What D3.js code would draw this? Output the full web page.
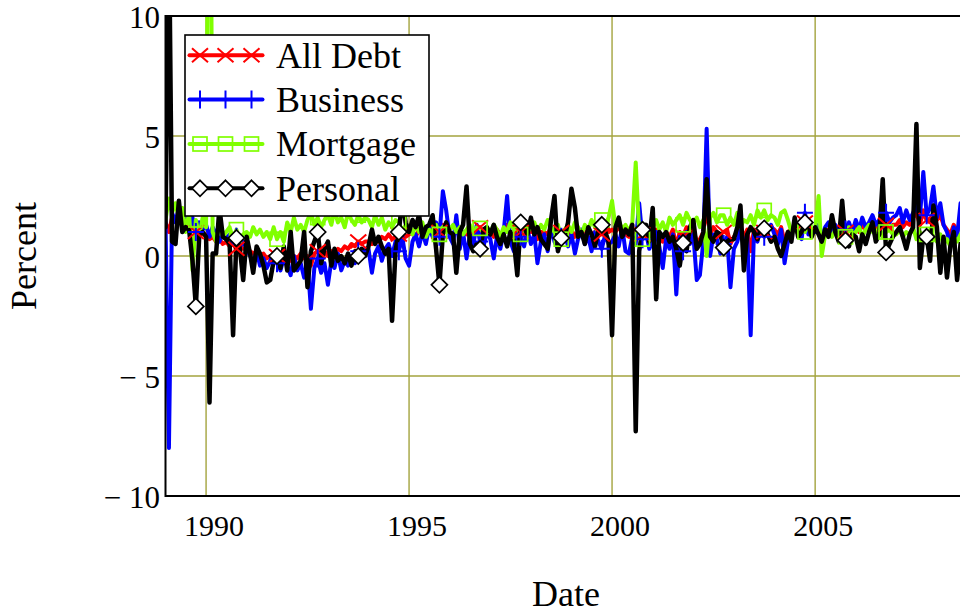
<!DOCTYPE html>
<html>
<head>
<meta charset="utf-8">
<script src="https://cdn.jsdelivr.net/npm/d3@7"></script>
<style>
  html, body { margin: 0; padding: 0; background: #fff; }
  svg { display: block; }
  text { font-family: "Liberation Serif", "Times New Roman", "DejaVu Serif", serif; fill: #000; }
</style>
</head>
<body>
<svg id="chart" width="960" height="613"></svg>
<script>
// Monthly percent change by debt type, Jan 1989 onward
const startYear = 1989;

const allDebt = [
  1.4, 1.0, 1.6, 1.5, 1.7, 1.4, 1.5, 1.2, 1.3, 1.0, 1.1, 0.9,
  0.9, 0.7, 0.8, 0.6, 0.7, 0.5, 0.6, 0.4, 0.5, 0.3, 0.4, 0.3,
  0.3, 0.2, 0.1, 0.2, 0.0, 0.1, -0.1, 0.0, -0.2, 0.0, -0.1, 0.0,
  -0.1, -0.2, 0.0, -0.1, 0.1, -0.1, 0.0, -0.4, 0.1, 0.2, 0.0, 0.2,
  0.0, 0.2, 0.1, 0.3, 0.2, 0.4, 0.3, 0.5, 0.4, 0.6, 0.5, 0.6,
  0.6, 0.5, 0.7, 0.6, 0.8, 0.7, 0.9, 0.7, 0.8, 0.9, 1.0, 0.8,
  0.9, 1.0, 0.8, 1.1, 0.9, 1.0, 1.2, 0.9, 1.0, 1.0, 1.3, 1.1,
  1.0, 0.9, 1.1, 0.8, 1.0, 0.9, 1.1, 0.8, 1.0, 1.2, 0.9, 1.0,
  1.0, 0.8, 1.1, 0.9, 1.0, 1.3, 0.9, 0.8, 1.1, 1.0, 0.9, 1.1,
  1.0, 1.1, 0.7, 1.0, 1.0, 0.9, 1.2, 0.9, 0.8, 1.0, 1.1, 0.9,
  1.1, 0.8, 1.0, 1.0, 0.9, 1.1, 0.9, 1.0, 1.0, 0.9, 1.1, 1.0,
  1.1, 1.0, 1.2, 1.0, 0.9, 0.8, 1.1, 1.0, 1.4, 0.9, 1.0, 0.8,
  1.0, 1.1, 0.9, 0.6, 1.0, 0.8, 1.1, 0.4, 1.0, 0.8, 1.2, 0.9,
  1.1, 0.6, 0.7, 1.0, 2.0, 0.9, 1.2, 1.0, 0.9, 1.0, 1.1, 0.5,
  0.8, 1.0, 1.2, 0.8, 1.1, 0.2, 1.1, 0.9, 1.2, 1.0, 1.1, 1.2,
  1.1, 0.9, 1.2, 0.6, 1.0, 1.1, 1.3, 1.0, 1.0, 1.4, 1.1, 1.0,
  1.1, 1.3, 0.8, 1.0, 1.1, 1.2, 1.1, 1.0, 1.4, 1.0, 1.1, 1.0,
  1.2, 1.0, 1.3, 1.1, 1.2, 1.4, 1.1, 1.2, 1.5, 1.3, 1.1, 1.3,
  1.3, 1.5, 1.2, 1.4, 1.3, 1.6, 1.8, 1.3, 1.9, 1.5, 1.4, 1.8,
  1.5, 1.7, 1.3, 1.1, 0.9, 1.3, 1.0, 1.5, 1.4
];

const business = [
  1.5, -8.0, 1.8, 1.4, 2.0, 1.5, 1.7, 1.2, 1.6, 1.0, 1.4, 1.1,
  1.3, 0.8, 1.2, 0.9, 0.6, 1.0, 0.7, 0.9, 0.5, 0.8, 0.4, 0.6,
  0.3, 0.0, -0.3, 0.2, -0.4, -0.1, -0.5, -0.2, 0.1, -0.3, -0.6, -0.1,
  -0.4, -0.8, 0.0, -0.6, -0.3, -0.9, -0.2, -2.2, -0.5, -0.1, -0.7, -0.3,
  -1.2, -0.2, -0.5, 0.1, -0.6, -0.2, -0.4, 0.0, -0.3, 0.2, -0.1, 0.3,
  0.3, -0.7, 0.1, 0.4, -0.2, 0.3, 0.5, 0.0, 0.6, 0.2, 0.8, -0.1,
  -0.4, 0.6, 0.9, 0.4, 1.0, 0.5, 1.2, 0.8, 1.4, 0.8, 2.7, 1.9,
  0.8, 0.5, 1.7, 0.3, 1.0, -0.1, 0.9, 0.5, 1.3, 0.6, 0.4, 1.0,
  0.7, -0.1, 0.8, 0.3, 1.0, 2.5, 0.6, 0.2, 0.9, 0.8, 0.4, 1.1,
  0.5, 0.9, -0.3, 0.6, 0.9, 0.2, 1.2, 0.6, 0.3, 0.8, 1.0, 0.4,
  0.9, 0.1, 0.7, 1.1, 0.5, 0.8, 0.2, 1.0, 0.6, 0.3, 0.9, 0.5,
  0.6, 0.9, 0.4, 1.2, 0.2, 0.1, 0.8, 0.5, 2.2, 0.7, 1.0, 0.3,
  0.6, 1.0, 0.4, -0.5, 0.7, 0.3, 0.9, -1.6, 0.8, 0.2, 1.0, 0.5,
  0.9, -1.0, -0.8, 0.6, 5.3, 0.0, 0.9, 0.7, 0.1, 0.5, 0.8, -1.3,
  0.3, 0.6, 1.1, 0.4, 0.9, -3.3, 1.0, 0.6, 1.2, 0.8, 1.0, 1.3,
  0.9, 0.5, 1.1, -0.3, 0.6, 1.0, 1.3, 0.9, 0.7, 1.8, 0.9, 1.1,
  1.0, 1.3, 0.8, 1.2, 1.4, 1.0, 1.3, 0.9, 1.5, 1.1, 1.4, 1.0,
  1.5, 1.1, 1.6, 1.2, 1.4, 1.7, 1.3, 1.5, 1.2, 1.8, 1.4, 1.6,
  1.7, 2.0, 1.4, 1.9, 1.5, 1.8, 2.1, 1.6, 3.5, 1.7, 2.0, 2.9,
  1.6, 2.2, 1.3, 1.0, 0.5, 1.2, 0.8, 2.2, 1.5
];

const mortgage = [
  1.5, 2.4, 1.8, 2.2, 1.6, 2.0, 1.0, 1.8, -0.6, 1.5, 0.8, 1.6,
  1.2, 25.0, 1.0, 0.6, 1.4, 0.8, 1.0, 1.2, 0.7, 1.1, 0.6, 0.9,
  1.0, 0.8, 1.2, 0.9, 1.1, 0.8, 1.0, 0.7, 1.2, 0.7, 1.0, 0.6,
  1.4, 1.0, 1.6, 1.1, 1.3, 1.0, 1.5, 1.8, 1.3, 1.6, 1.2, 1.5,
  1.7, 1.3, 1.9, 1.4, 1.6, 1.2, 1.8, 1.5, 1.3, 1.7, 1.4, 1.6,
  1.5, 1.2, 1.7, 1.3, 1.6, 1.1, 1.4, 1.2, 1.5, 1.4, 1.0, 1.3,
  1.2, 0.9, 1.3, 1.0, 1.4, 0.8, 1.1, 1.0, 1.3, 0.9, 1.2, 1.0,
  1.1, 1.3, 1.0, 1.2, 0.9, 1.1, 1.3, 1.0, 1.2, 1.15, 1.0, 1.2,
  1.0, 1.3, 1.1, 0.8, 1.2, 1.0, 1.4, 1.1, 1.2, 0.9, 1.3, 1.0,
  1.2, 1.4, 1.0, 1.3, 1.1, 1.5, 1.2, 1.0, 1.3, 0.7, 1.1, 1.3,
  1.0, 1.4, 1.2, 0.9, 1.3, 1.1, 1.5, 1.2, 1.0, 1.5, 1.3, 1.6,
  2.3, 1.2, 1.5, 1.1, 1.3, 1.0, 1.4, 3.9, 1.0, 0.7, 1.2, 0.9,
  1.2, 1.5, 1.1, 1.4, 1.0, 1.6, 1.3, 1.5, 1.7, 1.3, 1.8, 1.5,
  1.4, 1.6, 1.2, 1.5, 0.0, 1.6, 1.8, 1.4, 1.7, 1.7, 1.3, 1.6,
  1.3, 1.8, 1.2, 1.5, 1.4, 1.7, 1.3, 1.9, 1.6, 1.9, 1.5, 1.7,
  1.6, 1.3, 1.8, 1.9, 1.5, 1.0, 1.2, 0.9, 1.1, 1.0, 1.3, 0.9,
  1.1, 2.5, 0.0, 0.9, 1.0, 0.8, 1.1, 0.9, 1.0, 0.8, 1.2, 0.9,
  1.0, 1.2, 0.8, 1.1, 1.3, 1.0, 0.9, 1.2, 0.8, 1.0, 1.1, 0.9,
  0.9, 1.1, 0.8, 1.0, 0.9, 1.2, 0.7, 1.0, 0.8, 0.9, 1.1, 0.8,
  0.6, 0.9, 0.5, 0.7, 0.4, 0.8, 0.6, 0.9, 0.7
];

const personal = [
  1.2, 14.0, 0.6, 0.5, 2.3, 1.0, 1.2, 1.1, -0.2, -2.1, 0.9, 1.0,
  0.8, -6.1, 0.1, 0.1, 2.0, 0.8, 0.7, 0.5, -3.3, 0.75, 0.3, -1.0,
  0.8, 0.1, -0.7, 0.4, 0.1, -0.4, -1.1, -1.0, -0.2, 0.0, -0.5, 0.4,
  -0.6, 1.0, -0.6, -0.4, -0.2, 1.0, -1.3, 0.2, 0.6, 1.0, -0.3, 0.3,
  0.6, -0.4, 0.3, -0.2, 0.0, -0.3, 0.1, -0.4, 0.2, 0.0, 0.3, 0.0,
  0.4, 1.1, 0.5, 0.8, 0.4, 0.1, 0.3, -2.7, 0.2, 1.0, 2.4, 1.4,
  1.0, 1.5, 1.2, 1.7, 0.8, 1.2, 1.3, 1.7, 0.3, -1.2, 0.9, 1.4,
  1.0, 0.9, -0.7, 1.0, 1.3, 2.9, 0.5, 0.2, 0.5, 0.3, 1.1, 1.2,
  0.9, 1.3, 0.8, 0.5, 0.9, 0.4, 1.0, 0.6, -0.8, 1.4, 1.2, 0.9,
  1.6, 0.9, 1.2, 0.7, 0.5, 0.3, 1.5, 2.5, 0.2, 0.75, 0.8, 1.4,
  2.8, 2.0, 0.8, 1.0, 0.5, 1.2, 0.9, 0.4, 1.1, 1.3, 1.0, 0.6,
  -3.3, 1.2, 1.6, 0.8, 1.1, 0.9, 1.3, -7.3, 0.2, 1.1, 1.3, 0.6,
  2.0, -1.8, 1.0, 0.8, 1.0, 0.6, 0.8, 0.3, -0.4, 0.55, 0.2, 1.2,
  1.5, 0.3, 0.5, 1.0, 3.2, 0.8, 0.6, 1.0, 0.9, 0.35, 0.6, 0.7,
  0.7, 1.2, 2.1, -0.6, 0.9, 1.2, 1.0, 0.7, 1.1, 1.15, 0.9, 0.6,
  0.8, 0.3, 0.0, 0.5, 1.0, 0.6, 1.6, 0.8, 1.0, 1.4, 1.3, 0.8,
  1.2, 0.9, 0.6, 1.1, 0.8, 1.7, 1.0, 0.6, 2.3, 0.65, 0.4, 0.9,
  0.8, 0.2, 0.9, 0.5, 1.0, 1.4, 0.6, 0.9, 3.2, 0.15, 0.5, 0.8,
  1.0, 1.2, 0.8, 0.3, 0.9, 1.2, 5.5, -0.5, 0.8, 0.8, -0.2, 2.1,
  1.2, -0.7, 0.8, -0.9, 0.4, 1.0, -1.0, 0.5, 0.3
];

const seriesNames = ["All Debt", "Business", "Mortgage", "Personal"];
const seriesValues = [allDebt, business, mortgage, personal];
const seriesColors = ["#ff0000", "#0000ff", "#80ff00", "#000000"];
const markerKinds = ["cross", "plus", "square", "diamond"];

const yTicks = [-10, -5, 0, 5, 10];
const yTickLabels = ["\u2212 10", "\u2212 5", "0", "5", "10"];
const yGrid = [-5, 0, 5];
const xTickYears = [1990, 1995, 2000, 2005];
const xTickLabels = ["1990", "1995", "2000", "2005"];

// Layout
const svg = d3.select("#chart");
const plot = { left: 165.5, right: 967, top: 16, bottom: 496 };

const dates = d3.range(allDebt.length).map(i => new Date(startYear, i, 1));

const x = d3.scaleTime()
  .domain([new Date(1989, 0, 1), new Date(2008, 8, 28)])
  .range([plot.left, plot.right]);
const y = d3.scaleLinear()
  .domain([-10, 10])
  .range([plot.bottom, plot.top]);

// Clip region for the data
svg.append("defs").append("clipPath").attr("id", "plotClip")
  .append("rect")
  .attr("x", plot.left).attr("y", plot.top)
  .attr("width", plot.right - plot.left).attr("height", plot.bottom - plot.top);

// Grid lines
const gridColor = "#a3a33e";
const grid = svg.append("g").attr("class", "grid");
grid.selectAll("line.gx").data(xTickYears).join("line")
  .attr("class", "gx")
  .attr("x1", d => x(new Date(d, 0, 1))).attr("x2", d => x(new Date(d, 0, 1)))
  .attr("y1", plot.top).attr("y2", plot.bottom)
  .attr("stroke", gridColor).attr("stroke-width", 1.4);
grid.selectAll("line.gy").data(yGrid).join("line")
  .attr("class", "gy")
  .attr("x1", plot.left).attr("x2", plot.right)
  .attr("y1", d => y(d)).attr("y2", d => y(d))
  .attr("stroke", gridColor).attr("stroke-width", 1.4);

// Marker shapes
function drawMarker(g, kind, color, cx, cy) {
  if (kind === "cross") {
    g.append("path")
      .attr("d", `M${cx - 8},${cy - 7}L${cx + 8},${cy + 7}M${cx - 8},${cy + 7}L${cx + 8},${cy - 7}`)
      .attr("stroke", color).attr("stroke-width", 2).attr("fill", "none");
  } else if (kind === "plus") {
    g.append("path")
      .attr("d", `M${cx},${cy - 9}L${cx},${cy + 9}M${cx - 8},${cy}L${cx + 8},${cy}`)
      .attr("stroke", color).attr("stroke-width", 2).attr("fill", "none");
  } else if (kind === "square") {
    g.append("rect")
      .attr("x", cx - 7).attr("y", cy - 7).attr("width", 14).attr("height", 14)
      .attr("stroke", color).attr("stroke-width", 1.7).attr("fill", "none");
  } else {
    g.append("path")
      .attr("d", `M${cx},${cy - 8}L${cx + 8},${cy}L${cx},${cy + 8}L${cx - 8},${cy}Z`)
      .attr("stroke", color).attr("stroke-width", 1.7).attr("fill", "#fff");
  }
}

// Series
const line = d3.line()
  .x((d, i) => x(dates[i]))
  .y(d => y(d));

const markerIdx = d3.range(9, allDebt.length, 12);
const dataG = svg.append("g").attr("clip-path", "url(#plotClip)");
seriesValues.forEach((vals, s) => {
  dataG.append("path")
    .datum(vals)
    .attr("d", line)
    .attr("fill", "none")
    .attr("stroke", seriesColors[s])
    .attr("stroke-width", s === 3 ? 4.5 : 4)
    .attr("stroke-linejoin", "round")
    .attr("stroke-linecap", "round");
});
seriesValues.forEach((vals, s) => {
  const mg = dataG.append("g");
  markerIdx.forEach(i => drawMarker(mg, markerKinds[s], seriesColors[s], x(dates[i]), y(vals[i])));
});

// Frame
svg.append("path")
  .attr("d", `M${plot.right + 20},${plot.top}H${plot.left}V${plot.bottom}H${plot.right + 20}`)
  .attr("fill", "none").attr("stroke", "#000").attr("stroke-width", 2);

// Axes
const xAxis = d3.axisBottom(x)
  .tickValues(xTickYears.map(yr => new Date(yr, 0, 1)))
  .tickFormat((d, i) => xTickLabels[i])
  .tickSize(0);
const gx = svg.append("g").attr("transform", `translate(0,${plot.bottom})`).call(xAxis);
gx.select(".domain").remove();
gx.selectAll("text")
  .attr("x", 7.5).attr("y", 40).attr("dy", 0)
  .style("font-size", "30px")
  .style("font-family", "'Liberation Serif', 'Times New Roman', serif")
  .attr("fill", "#000");

const yAxis = d3.axisLeft(y)
  .tickValues(yTicks)
  .tickFormat((d, i) => yTickLabels[i])
  .tickSize(0);
const gy = svg.append("g").attr("transform", `translate(${plot.left},0)`).call(yAxis);
gy.select(".domain").remove();
gy.selectAll("text")
  .attr("x", -5.5).attr("y", 11.5).attr("dy", 0)
  .style("font-size", "31px")
  .style("font-family", "'Liberation Serif', 'Times New Roman', serif")
  .attr("fill", "#000");

// Axis titles
svg.append("text")
  .attr("x", 566).attr("y", 605.5)
  .attr("text-anchor", "middle")
  .style("font-size", "36px")
  .text("Date");
svg.append("text")
  .attr("transform", "translate(35.5,256) rotate(-90)")
  .attr("text-anchor", "middle")
  .style("font-size", "36px")
  .text("Percent");

// Legend
const legend = svg.append("g");
legend.append("rect")
  .attr("x", 185).attr("y", 35).attr("width", 244).attr("height", 181)
  .attr("fill", "#fff").attr("stroke", "#000").attr("stroke-width", 1.6);
const rowY = [55.3, 99.6, 144, 188.3];
seriesNames.forEach((name, s) => {
  const cy = rowY[s];
  legend.append("line")
    .attr("x1", 189.5).attr("x2", 262.5).attr("y1", cy).attr("y2", cy)
    .attr("stroke", seriesColors[s]).attr("stroke-width", 4)
    .attr("stroke-linecap", "round");
  [200, 225.5, 251.5].forEach(mx => drawMarker(legend, markerKinds[s], seriesColors[s], mx, cy));
  legend.append("text")
    .attr("x", 276).attr("y", cy + 12.2)
    .style("font-size", "36px")
    .text(name);
});
</script>
</body>
</html>
